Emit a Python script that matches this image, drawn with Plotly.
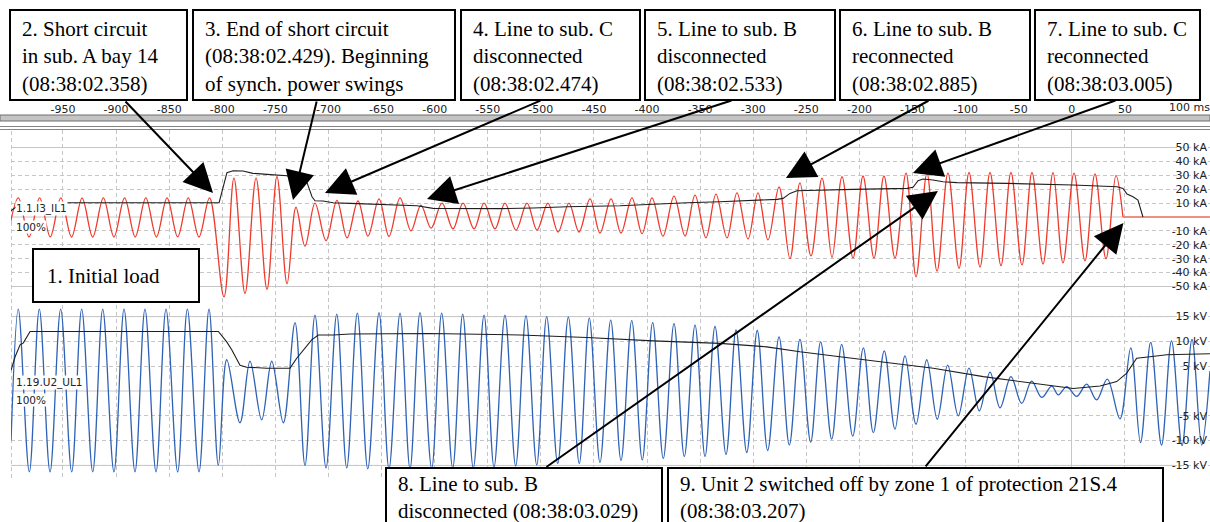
import plotly.graph_objects as go

# ---------------- data ----------------
# Current 1.1.I3_IL1 : extrema read from the record (time in ms, value in kA)
cur_t = [-1002, -992, -982, -972, -962, -952, -942, -932, -922, -912,
         -902, -892, -882, -872, -862, -852, -842, -832, -822, -812,
         -798.4, -789.0, -778.6, -768.2, -757.9, -748.5, -739.0, -730.6, -722.1, -712.7,
         -702.3, -692.0, -682.5, -672.2, -662.8, -652.4, -643.0, -632.6, -622.3, -612.9,
         -603.4, -593.1, -582.7, -573.3, -562.9, -553.5, -543.2, -533.8, -523.4, -513.0,
         -503.6, -493.3, -483.8, -473.5, -464.1, -453.7, -444.3, -433.9, -424.5, -414.2,
         -404.7, -395.3, -385.0, -374.6, -364.2, -354.8, -344.5, -335.1, -324.7, -315.3,
         -304.9, -295.5, -286.1, -275.7, -265.4, -256.0, -245.6, -235.2, -225.8, -216.4,
         -206.0, -196.6, -186.3, -176.9, -166.5, -156.1, -146.7, -136.4, -126.9, -116.6,
         -106.2, -96.8, -86.4, -77.0, -66.7, -57.3, -46.9, -37.5, -27.1, -17.7,
         -8.3, 2.1, 12.4, 21.8, 32.2, 41.6, 48.2]
cur_v = [-14.4, 13.7, -14.4, 13.7, -14.3, 13.7, -14.4, 13.6, -14.4, 13.7,
         -14.4, 13.7, -14.4, 13.7, -14.4, 13.7, -14.3, 13.7, -14.4, 13.7,
         -57.5, 28.0, -55.0, 28.0, -52.0, 29.0, -48.0, 7.0, -21.0, 10.0,
         -17.0, 12.0, -15.0, 11.5, -13.7, 13.0, -14.0, 13.7, -10.0, 8.6,
         -8.0, 10.0, -8.6, 10.0, -8.6, 10.0, -8.6, 10.0, -9.4, 10.0,
         -9.4, 10.0, -10.8, 10.0, -10.8, 13.0, -11.5, 13.0, -11.5, 13.7,
         -12.0, 13.7, -13.7, 15.0, -13.7, 15.8, -15.0, 16.5, -15.0, 17.3,
         -15.8, 17.3, -16.5, 21.6, -30.0, 24.5, -28.0, 28.0, -29.0, 29.0,
         -29.5, 29.5, -29.5, 29.5, -29.5, 31.6, -43.0, 31.6, -39.0, 31.6,
         -37.0, 32.0, -36.0, 32.0, -35.0, 32.0, -34.5, 32.0, -33.8, 32.0,
         -33.0, 31.6, -31.6, 31.0, -30.0, 30.0, 0.0]
# current after the breaker opened
cur_off_t = [48.2, 130.1]
cur_off_v = [0.0, 0.0]
# RMS of the current (kA)
cur_rms_t = [-999, -990, -982, -803, -795.6, -789.9, -780.5, -771.1, -757.9, -739.0,
             -734.3, -729.6, -723.9, -720.2, -715.5, -712.7, -705.1, -695.7, -679.7, -663.7,
             -648.6, -632.6, -616.6, -601.5, -569.5, -538.4, -507.3, -475.3, -425.4, -394.3,
             -362.3, -331.3, -300.2, -277.6, -271.9, -265.4, -258.8, -237.1, -206.0, -155.2,
             -149.5, -144.8, -140.1, -130.7, -121.3, -108.1, -61.0, 1.1, 42.6, 48.2,
             52.0, 57.6, 62.3, 67.0]
cur_rms_v = [4.5, 9.5, 10.3, 10.3, 31.9, 33.3, 33.1, 31.4, 30.7, 29.7,
             27.8, 26.1, 25.4, 24.7, 14.6, 11.7, 11.5, 10.3, 9.8, 9.4,
             9.1, 8.6, 8.1, 6.2, 6.0, 6.0, 6.5, 7.4, 8.1, 9.4,
             10.3, 11.0, 11.7, 12.7, 13.4, 17.0, 18.9, 19.4, 19.9, 20.6,
             21.4, 26.1, 27.3, 26.6, 25.4, 24.7, 24.2, 23.0, 21.8, 20.6,
             16.5, 14.6, 12.2, 0.0]

# Voltage 1.19.U2_UL1 : extrema (time in ms, value in kV)
volt_t = [-998.9, -992.1, -981.7, -972.3, -962.2, -952.2, -941.8, -932.4, -922.0, -912.6,
          -902.0, -892.5, -882.2, -872.8, -862.4, -853.0, -842.0, -832.9, -821.9, -812.5,
          -803.7, -795.8, -783.3, -773.9, -762.9, -753.4, -742.5, -731.5, -722.1, -712.7,
          -702.3, -692.2, -682.8, -672.8, -663.0, -652.4, -643.0, -632.6, -623.2, -613.8,
          -602.8, -593.4, -583.0, -573.6, -563.6, -553.5, -544.1, -533.8, -523.7, -514.0,
          -503.9, -494.5, -484.1, -474.1, -463.8, -454.4, -444.3, -434.2, -424.5, -414.4,
          -404.5, -394.7, -384.7, -374.6, -364.9, -354.8, -345.4, -336.0, -325.6, -316.2,
          -306.1, -296.2, -286.4, -275.7, -266.0, -256.0, -245.9, -236.5, -226.1, -216.7,
          -206.3, -196.3, -186.9, -176.6, -166.5, -157.1, -146.7, -136.6, -126.7, -116.9,
          -106.9, -96.8, -87.1, -77.0, -67.6, -57.3, -47.2, -37.8, -28.3, -18.9,
          -12.7, -4.8, 4.6, 14.0, 23.4, 33.4, 45.4, 55.5, 64.7, 74.3,
          84.5, 93.9, 103.8, 113.2, 122.3, 130.1]
volt_v = [-10.0, 16.5, -16.3, 16.5, -16.3, 16.5, -16.3, 16.5, -16.3, 16.5,
          -16.3, 16.5, -16.3, 16.5, -16.3, 16.5, -16.3, 16.5, -16.3, 16.5,
          -15.0, 6.3, -6.4, 6.0, -5.8, 6.0, -6.4, 13.8, -15.0, 15.3,
          -15.5, 15.5, -15.5, 15.7, -15.7, 15.8, -15.7, 15.7, -15.7, 15.8,
          -15.6, 15.7, -15.5, 15.5, -15.5, 15.3, -15.3, 15.3, -15.1, 15.2,
          -14.9, 15.0, -14.6, 14.9, -14.6, 14.7, -14.4, 14.3, -14.0, 14.2,
          -13.9, 13.8, -13.6, 13.6, -13.2, 13.3, -13.2, 13.0, -12.8, 12.3,
          -12.4, 12.2, -12.0, 10.9, -10.9, 10.4, -10.3, 9.9, -9.7, 9.4,
          -9.1, 8.7, -8.4, 8.1, -7.7, 7.1, -6.7, 6.3, -5.7, 5.2,
          -5.0, 4.6, -4.0, 3.8, -3.4, 2.9, -2.5, 2.0, -1.3, 1.0,
          -0.8, 0.9, -1.1, 1.4, -1.8, 2.4, -5.6, 8.7, -10.4, 9.8,
          -10.9, 10.1, -11.0, 10.4, -10.9, 4.0]
# RMS of the voltage (kV)
volt_rms_t = [-998.9, -995.1, -990.4, -987.3, -981.0, -803.7, -795.8, -791.1, -783.3, -777.0,
              -758.2, -736.2, -729.9, -723.7, -715.8, -709.6, -695.4, -679.7, -604.4, -519.6,
              -456.8, -394.1, -331.3, -287.3, -256.0, -218.4, -177.5, -130.4, -83.3, -36.3,
              1.4, 26.6, 42.3, 51.7, 61.1, 73.6, 89.4, 130.1]
volt_rms_v = [4.2, 6.9, 9.3, 9.7, 12.0, 12.0, 9.9, 8.3, 5.2, 4.8,
              4.6, 4.6, 6.6, 8.3, 10.3, 11.3, 11.3, 11.5, 11.6, 11.3,
              10.8, 10.1, 9.6, 8.9, 7.9, 6.9, 5.9, 4.6, 2.9, 1.6,
              0.5, 1.0, 1.9, 3.6, 6.6, 6.9, 7.3, 7.5]

# axis ticks
time_ticks = [-950, -900, -850, -800, -750, -700, -650, -600, -550, -500, -450,
              -400, -350, -300, -250, -200, -150, -100, -50, 0, 50, 100]
time_unit = "ms"
cur_ticks = [50, 40, 30, 20, 10, -10, -20, -30, -40, -50]
volt_ticks = [15, 10, 5, -5, -10, -15]

# event annotations
events_top = [
    "2. Short circuit<br>in sub. A bay 14<br>(08:38:02.358)",
    "3. End of short circuit<br>(08:38:02.429). Beginning<br>of synch. power swings",
    "4. Line to sub. C<br>disconnected<br>(08:38:02.474)",
    "5. Line to sub. B<br>disconnected<br>(08:38:02.533)",
    "6. Line to sub. B<br>reconnected<br>(08:38:02.885)",
    "7. Line to sub. C<br>reconnected<br>(08:38:03.005)",
]
event_initial = "1. Initial load"
events_bottom = [
    "8. Line to sub. B<br>disconnected (08:38:03.029)",
    "9. Unit 2 switched off by zone 1 of protection 21S.4<br>(08:38:03.207)",
]
# arrow targets (ms, kA) for events 2..9
arrow_t = [-808.7, -733.4, -703.3, -607.2, -269.2, -149.6, -126.1, 48.6]
arrow_v = [17.3, 12.2, 17.3, 12.9, 28.1, 31.7, 18.7, -4.3]

# ---------------- layout geometry (pixels) ----------------
W, H = 1210, 522
PL = 11                 # left edge of plot area
PT, PB = 130, 478       # top / bottom of plot area
I0, IS = 217, 1.39      # pixel row of 0 kA, px per kA
U0, US = 391, 4.96      # pixel row of 0 kV, px per kV


def py(p):
    return 1 - p / H


def px(p):
    return p / W


GRID = "#c6c6c6"
DASH = "4px,3px"
TXT = "#222222"

fig = go.Figure()
fig.add_trace(go.Scatter(x=cur_t, y=cur_v, mode="lines", yaxis="y",
                         line=dict(color="#ee3a2c", width=1.3, shape="spline", smoothing=1.0),
                         hoverinfo="skip"))
fig.add_trace(go.Scatter(x=cur_off_t, y=cur_off_v, mode="lines", yaxis="y",
                         line=dict(color="#f07565", width=1.6), hoverinfo="skip"))
fig.add_trace(go.Scatter(x=cur_rms_t, y=cur_rms_v, mode="lines", yaxis="y",
                         line=dict(color="#1e1e1e", width=1.1), hoverinfo="skip"))
fig.add_trace(go.Scatter(x=volt_t, y=volt_v, mode="lines", yaxis="y2",
                         line=dict(color="#2d62b6", width=1.3, shape="spline", smoothing=1.0),
                         hoverinfo="skip"))
fig.add_trace(go.Scatter(x=volt_rms_t, y=volt_rms_v, mode="lines", yaxis="y2",
                         line=dict(color="#1e1e1e", width=1.1), hoverinfo="skip"))

tickfont = dict(family="DejaVu Sans", size=11, color=TXT)
# the last time tick carries the unit and is written next to the scale's right end
time_text = [str(v) for v in time_ticks[:-1]] + [""]
fig.update_layout(
    width=W, height=H, margin=dict(l=0, r=0, t=0, b=0),
    paper_bgcolor="white", plot_bgcolor="white", showlegend=False,
    xaxis=dict(domain=[px(PL), 1], range=[(PL - 1071.8) / 1.0619, (W - 1071.8) / 1.0619],
               side="top", anchor="free", position=py(PT), tickvals=time_ticks,
               ticktext=time_text,
               ticks="outside", ticklen=13, tickcolor="rgba(0,0,0,0)", ticklabeloverflow="allow",
               tickfont=tickfont, showgrid=True, gridcolor=GRID, griddash=DASH,
               zeroline=True, zerolinecolor=GRID, zerolinewidth=1, showline=False),
    yaxis=dict(domain=[py(PB), py(PT)], range=[(I0 - PB) / IS, (I0 - PT) / IS],
               anchor="free", position=1,
               side="right", tickvals=cur_ticks, ticktext=[f"{v} kA" for v in cur_ticks],
               ticklabelposition="inside", ticks="", tickfont=tickfont,
               showgrid=True, gridcolor=GRID, griddash=DASH, zeroline=False, showline=False),
    yaxis2=dict(overlaying="y", range=[(U0 - PB) / US, (U0 - PT) / US],
                anchor="free", position=1,
                side="right", tickvals=volt_ticks, ticktext=[f"{v} kV" for v in volt_ticks],
                ticklabelposition="inside", ticks="", tickfont=tickfont,
                showgrid=True, gridcolor=GRID, griddash=DASH, zeroline=False, showline=False),
)

shapes = []
# solid grid lines
for v in (50, 0, -50):
    shapes.append(dict(type="line", xref="paper", yref="y", x0=px(PL), x1=1, y0=v, y1=v,
                       line=dict(color=GRID, width=1), layer="below"))
for v in (15, 0, -15):
    shapes.append(dict(type="line", xref="paper", yref="y2", x0=px(PL), x1=1, y0=v, y1=v,
                       line=dict(color=GRID, width=1), layer="below"))
# left dashed grid line
shapes.append(dict(type="line", xref="paper", yref="paper", x0=px(PL + 0.5), x1=px(PL + 0.5),
                   y0=py(PB), y1=py(PT), line=dict(color=GRID, width=1, dash=DASH), layer="below"))
# white backgrounds behind the right-hand labels
for v in cur_ticks:
    shapes.append(dict(type="rect", xref="paper", yref="y", x0=px(1173), x1=1,
                       y0=v - 4.2, y1=v + 4.2, fillcolor="white", line=dict(width=0), layer="below"))
for v in volt_ticks:
    shapes.append(dict(type="rect", xref="paper", yref="y2", x0=px(1173), x1=1,
                       y0=v - 1.2, y1=v + 1.2, fillcolor="white", line=dict(width=0), layer="below"))
# header band under the time scale
shapes.append(dict(type="rect", xref="paper", yref="paper", x0=0, x1=1, y0=py(121), y1=py(115),
                   fillcolor="#c4c4c4", line=dict(color="#6e6e6e", width=1)))
for p in (126.5, 129.5):
    shapes.append(dict(type="line", xref="paper", yref="paper", x0=0, x1=1, y0=py(p), y1=py(p),
                       line=dict(color="#858585", width=1)))

# event boxes
top_boxes = [(10, 187), (193, 455), (461, 640), (645, 835), (840, 1030), (1035, 1200)]
for (x0, x1) in top_boxes:
    shapes.append(dict(type="rect", xref="paper", yref="paper", x0=px(x0), x1=px(x1),
                       y0=py(100), y1=py(10), fillcolor="white",
                       line=dict(color="black", width=2), layer="above"))
shapes.append(dict(type="rect", xref="paper", yref="paper", x0=px(33), x1=px(199),
                   y0=py(302), y1=py(249), fillcolor="white",
                   line=dict(color="black", width=2), layer="above"))
bottom_boxes = [(386, 662), (668, 1163)]
for (x0, x1) in bottom_boxes:
    shapes.append(dict(type="rect", xref="paper", yref="paper", x0=px(x0), x1=px(x1),
                       y0=py(540), y1=py(468), fillcolor="white",
                       line=dict(color="black", width=2), layer="above"))
fig.update_layout(shapes=shapes)

ann = []
serif = dict(family="Liberation Serif", size=21, color="black")
for (x0, x1), txt in zip(top_boxes, events_top):
    ann.append(dict(text=txt, xref="paper", yref="paper", x=px(x0 + 10), y=py(15),
                    xanchor="left", yanchor="top", align="left", showarrow=False, font=serif))
ann.append(dict(text=event_initial, xref="paper", yref="paper", x=px(45), y=py(276),
                xanchor="left", yanchor="middle", align="left", showarrow=False, font=serif))
for (x0, x1), txt in zip(bottom_boxes, events_bottom):
    ann.append(dict(text=txt, xref="paper", yref="paper", x=px(x0 + 10), y=py(470),
                    xanchor="left", yanchor="top", align="left", showarrow=False, font=serif))
# arrows: tail offsets in pixels
tails = [(-89, -93), (24, -100), (217, -93), (306, -99), (144, -78), (204, -73), (-393, 277), (-199, 245)]
for t, v, (ax, ay) in zip(arrow_t, arrow_v, tails):
    ann.append(dict(text="", x=t, y=v, xref="x", yref="y", ax=ax, ay=ay, showarrow=True,
                    arrowhead=2, arrowsize=2.9, arrowwidth=2, arrowcolor="black", standoff=0))
# channel labels
small = dict(family="DejaVu Sans", size=10.5, color=TXT)
for txt, p in (("1.1.I3_IL1", 208), ("100%", 227), ("1.19.U2_UL1", 382), ("100%", 400)):
    ann.append(dict(text=txt, xref="paper", yref="paper", x=px(15), y=py(p), xanchor="left",
                    yanchor="middle", showarrow=False, font=small, bgcolor="white", borderpad=0))
# last time label with unit
ann.append(dict(text=f"{time_ticks[-1]} {time_unit}", xref="x", yref="paper", x=time_ticks[-1],
                xshift=-11, y=py(108), xanchor="left", yanchor="middle", showarrow=False,
                font=tickfont))
fig.update_layout(annotations=ann)

fig.write_html("out.html")
